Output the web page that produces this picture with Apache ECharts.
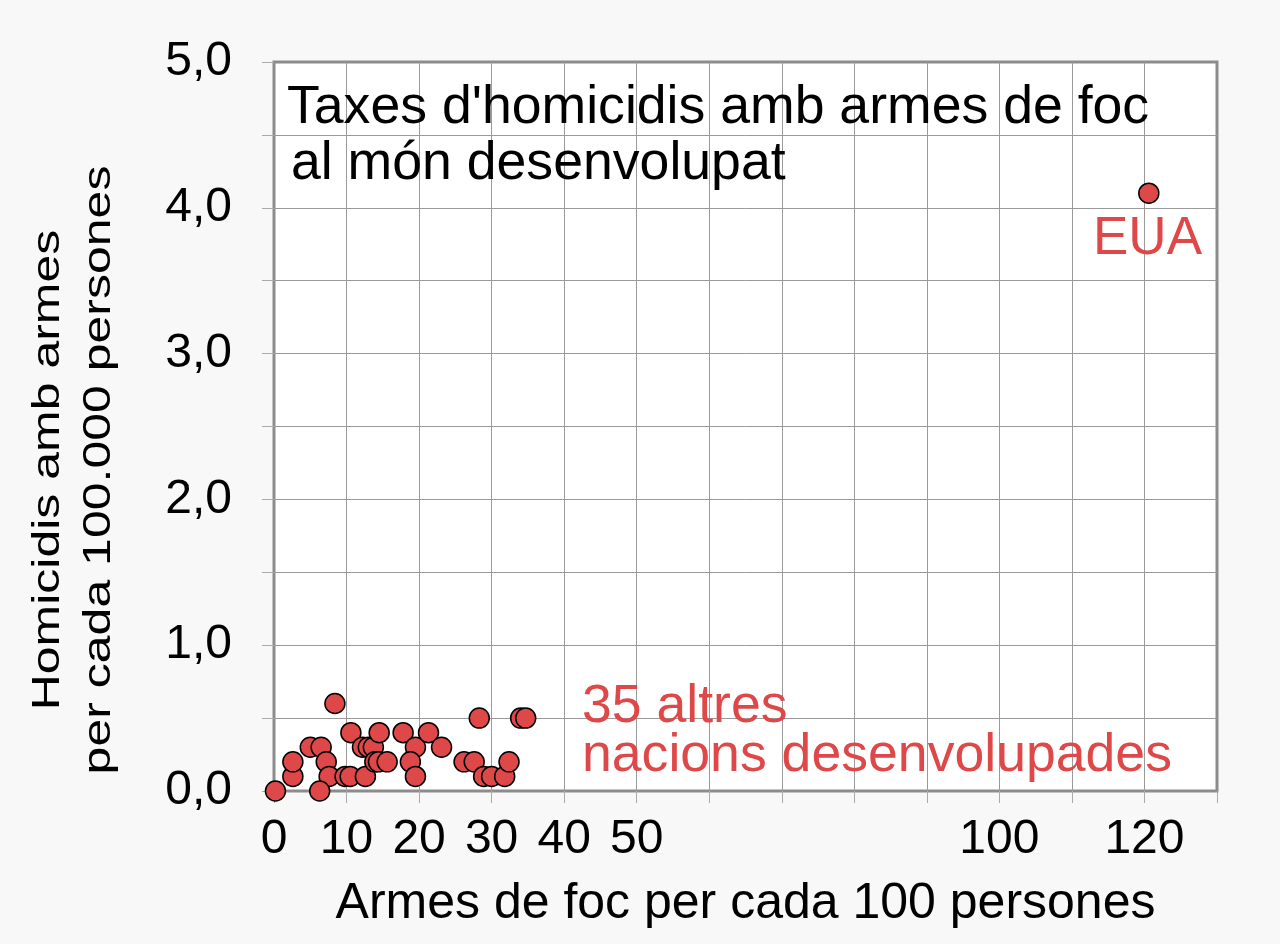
<!DOCTYPE html>
<html>
<head>
<meta charset="utf-8">
<script src="https://cdn.jsdelivr.net/npm/echarts@6/dist/echarts.min.js"></script>
<style>
  html, body { margin: 0; padding: 0; background: #f8f8f8; }
  #main { width: 1280px; height: 944px; }
</style>
</head>
<body>
<div id="main"></div>
<script>
// armes de foc per cada 100 persones (35 altres nacions)
const gunsPer100 = [0.2, 2.6, 2.6, 5.0, 6.5, 7.2, 7.6, 6.3, 8.4, 9.8, 10.5, 10.6,
  12.6, 12.2, 13.0, 13.7, 13.9, 14.4, 14.5, 15.6, 17.8, 19.5, 18.8, 19.5,
  21.3, 23.1, 26.2, 27.6, 28.3, 28.9, 30.0, 31.8, 32.4, 34.0, 34.7]
// homicidis amb armes per cada 100.000 persones
const homicideRate = [0.0, 0.1, 0.2, 0.3, 0.3, 0.2, 0.1, 0.0, 0.6, 0.1, 0.1, 0.4,
  0.1, 0.3, 0.3, 0.3, 0.2, 0.2, 0.4, 0.2, 0.4, 0.3, 0.2, 0.1,
  0.4, 0.3, 0.2, 0.2, 0.5, 0.1, 0.1, 0.1, 0.2, 0.5, 0.5]
const usGuns = 120.6
const usRate = 4.1

const xTickLabels = [0, 10, 20, 30, 40, 50, 100, 120]
const yTickLabels = [0, 1, 2, 3, 4, 5]

const red = '#de4848'
const font = 'Liberation Sans'

var myChart = echarts.init(document.getElementById('main'))

const otherData = gunsPer100.map((g, i) => [g, homicideRate[i]])

const dotStyle = {
  color: red,
  opacity: 1,
  borderColor: '#000',
  borderWidth: 1.5
}

myChart.setOption({
  backgroundColor: '#f8f8f8',
  animation: false,
  grid: {
    left: 274,
    top: 62,
    right: 63,
    bottom: 153,
    show: true,
    backgroundColor: '#fff',
    borderColor: '#8c8c8c',
    borderWidth: 3
  },
  xAxis: {
    type: 'value',
    min: 0,
    max: 130,
    interval: 10,
    name: 'Armes de foc per cada 100 persones',
    nameLocation: 'middle',
    nameGap: 88,
    nameTextStyle: { fontSize: 50, color: '#000', fontFamily: font },
    axisLine: { show: false },
    axisTick: { show: true, length: 12, lineStyle: { color: '#aaa', width: 1 } },
    axisLabel: {
      margin: 25,
      fontSize: 48,
      color: '#000',
      fontFamily: font,
      formatter: (v) => xTickLabels.includes(v) ? String(v) : ''
    },
    splitLine: {
      show: true,
      showMinLine: false,
      showMaxLine: false,
      lineStyle: { color: '#9a9a9a', width: 1 }
    }
  },
  yAxis: {
    type: 'value',
    min: 0,
    max: 5,
    interval: 0.5,
    axisLine: { show: false },
    axisTick: { show: true, length: 12, lineStyle: { color: '#aaa', width: 1 } },
    axisLabel: {
      margin: 42,
      fontSize: 48,
      padding: [5, 0, 0, 0],
      color: '#000',
      fontFamily: font,
      formatter: (v) => yTickLabels.includes(v) ? v.toFixed(1).replace('.', ',') : ''
    },
    splitLine: {
      show: true,
      showMinLine: false,
      showMaxLine: false,
      lineStyle: { color: '#9a9a9a', width: 1 }
    }
  },
  graphic: [
    // titol
    { type: 'text', left: 287, top: 81, z: 100,
      style: { text: "Taxes d'homicidis amb armes de foc", font: '53.6px "Liberation Sans"', fill: '#000' } },
    { type: 'text', left: 291, top: 137, z: 100,
      style: { text: 'al món desenvolupat', font: '53.6px "Liberation Sans"', fill: '#000' } },
    // anotacions
    { type: 'text', left: 1093, top: 213, z: 100,
      style: { text: 'EUA', font: '53px "Liberation Sans"', fill: red } },
    { type: 'text', left: 582, top: 680, z: 100,
      style: { text: '35 altres', font: '53.6px "Liberation Sans"', fill: red } },
    { type: 'text', left: 582, top: 729, z: 100,
      style: { text: 'nacions desenvolupades', font: '53.6px "Liberation Sans"', fill: red } },
    // titol eix y
    { type: 'text', x: 49, y: 470, rotation: Math.PI / 2, scaleY: 0.76, z: 100,
      style: { text: 'Homicidis amb armes', font: '50px "Liberation Sans"', fill: '#000',
        align: 'center', verticalAlign: 'middle' } },
    { type: 'text', x: 100, y: 470, rotation: Math.PI / 2, scaleY: 0.76, z: 100,
      style: { text: 'per cada 100.000 persones', font: '50px "Liberation Sans"', fill: '#000',
        align: 'center', verticalAlign: 'middle' } }
  ],
  series: [
    {
      name: 'altres',
      type: 'scatter',
      clip: false,
      symbolSize: 20,
      itemStyle: dotStyle,
      data: otherData
    },
    {
      name: 'EUA',
      type: 'scatter',
      clip: false,
      symbolSize: 20,
      itemStyle: dotStyle,
      data: [[usGuns, usRate]]
    }
  ]
})
</script>
</body>
</html>
